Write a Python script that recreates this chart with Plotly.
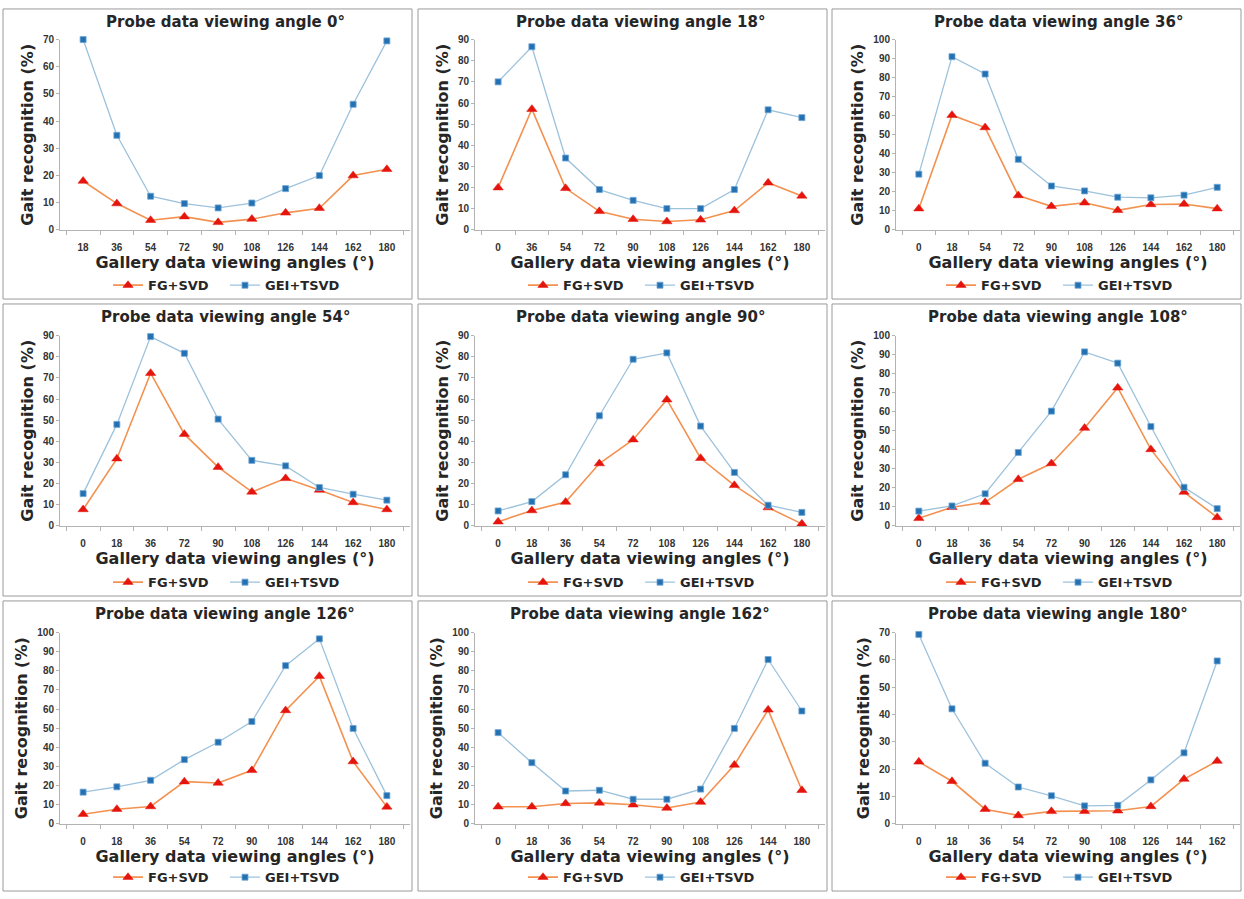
import plotly.graph_objects as go

W, H = 1244, 899

probe_angles = [0, 18, 36, 54, 90, 108, 126, 162, 180]

gallery_p0 = [18, 36, 54, 72, 90, 108, 126, 144, 162, 180]
fg_p0 = [18.0, 9.7, 3.6, 4.9, 2.8, 4.0, 6.3, 8.0, 20.0, 22.3]
gei_p0 = [70.0, 34.8, 12.4, 9.7, 8.1, 9.9, 15.2, 20.0, 46.2, 69.5]

gallery_p18 = [0, 36, 54, 72, 90, 108, 126, 144, 162, 180]
fg_p18 = [20.0, 57.1, 19.7, 8.8, 5.1, 4.0, 4.8, 9.2, 22.3, 16.1]
gei_p18 = [70.0, 86.6, 34.0, 19.1, 14.0, 10.1, 10.1, 19.1, 56.8, 53.1]

gallery_p36 = [0, 18, 54, 72, 90, 108, 126, 144, 162, 180]
fg_p36 = [11.2, 60.3, 53.8, 18.1, 12.4, 14.3, 10.3, 13.4, 13.6, 11.2]
gei_p36 = [29.3, 91.0, 81.9, 37.1, 23.1, 20.5, 17.2, 16.9, 18.3, 22.4]

gallery_p54 = [0, 18, 36, 72, 90, 108, 126, 144, 162, 180]
fg_p54 = [7.8, 31.8, 72.2, 43.4, 27.8, 16.1, 22.5, 17.0, 11.1, 7.8]
gei_p54 = [15.3, 48.0, 89.5, 81.6, 50.5, 31.0, 28.4, 18.2, 15.0, 12.2]

gallery_p90 = [0, 18, 36, 54, 72, 108, 126, 144, 162, 180]
fg_p90 = [2.0, 7.3, 11.3, 29.5, 40.8, 59.7, 32.0, 19.2, 8.7, 1.0]
gei_p90 = [7.1, 11.5, 24.2, 52.1, 78.8, 81.8, 47.2, 25.3, 9.8, 6.4]

gallery_p108 = [0, 18, 36, 54, 72, 90, 126, 144, 162, 180]
fg_p108 = [4.0, 9.8, 12.4, 24.5, 32.8, 51.4, 72.6, 40.2, 17.8, 4.5]
gei_p108 = [7.8, 10.5, 16.9, 38.6, 60.3, 91.4, 85.5, 52.2, 20.3, 9.1]

gallery_p126 = [0, 18, 36, 54, 72, 90, 108, 144, 162, 180]
fg_p126 = [5.1, 7.7, 9.1, 22.1, 21.4, 28.0, 59.3, 77.2, 32.6, 8.9]
gei_p126 = [16.6, 19.4, 22.8, 33.6, 42.7, 53.5, 82.7, 96.7, 49.9, 14.8]

gallery_p162 = [0, 18, 36, 54, 72, 90, 108, 126, 144, 180]
fg_p162 = [9.0, 9.0, 10.7, 11.0, 10.0, 8.3, 11.4, 30.8, 59.6, 17.6]
gei_p162 = [47.7, 32.0, 17.2, 17.6, 12.9, 12.9, 18.2, 49.9, 85.9, 59.0]

gallery_p180 = [0, 18, 36, 54, 72, 90, 108, 126, 144, 162]
fg_p180 = [22.7, 15.6, 5.4, 3.1, 4.6, 4.6, 4.8, 6.4, 16.4, 23.0]
gei_p180 = [69.3, 42.1, 22.2, 13.5, 10.3, 6.6, 6.8, 16.1, 26.0, 59.6]

y_max = [70, 90, 100, 90, 90, 100, 100, 100, 70]

panels = [
    (gallery_p0, fg_p0, gei_p0),
    (gallery_p18, fg_p18, gei_p18),
    (gallery_p36, fg_p36, gei_p36),
    (gallery_p54, fg_p54, gei_p54),
    (gallery_p90, fg_p90, gei_p90),
    (gallery_p108, fg_p108, gei_p108),
    (gallery_p126, fg_p126, gei_p126),
    (gallery_p162, fg_p162, gei_p162),
    (gallery_p180, fg_p180, gei_p180),
]

# layout in pixels
col_x = [(60, 410), (475, 825), (896, 1240)]
row_y = [(34, 227), (334, 527), (635, 829)]
box_x = [(3, 412), (418, 827), (832, 1241)]
box_y = [(3, 297), (302, 598), (603, 897)]

FONT = "Liberation Sans, Arial, sans-serif"
BIG = "DejaVu Sans, Verdana, sans-serif"
TXT = "#262626"
FG_LINE = "#f39150"
FG_MARK = "#e5140d"
GEI_LINE = "#9dc2dc"
GEI_MARK = "#2471b2"

def px(x):
    return x / W

def py(y):
    return 1 - y / H

fig = go.Figure()
layout = dict(
    width=W, height=H,
    margin=dict(l=0, r=0, t=0, b=0),
    paper_bgcolor="white", plot_bgcolor="white",
    font=dict(family=FONT, color=TXT),
    showlegend=True,
)
annotations = []
shapes = []

for i, (gal, fg, gei) in enumerate(panels):
    r, c = divmod(i, 3)
    k = i + 1
    xa = "x" if k == 1 else f"x{k}"
    ya = "y" if k == 1 else f"y{k}"
    lg = "legend" if k == 1 else f"legend{k}"
    cats = [str(g) for g in gal]

    fig.add_trace(go.Scatter(
        x=cats, y=fg, name="FG+SVD", mode="lines+markers",
        line=dict(color=FG_LINE, width=1.6),
        marker=dict(symbol="triangle-up", size=9, color=FG_MARK,
                    line=dict(color=FG_MARK, width=0.5)),
        xaxis=xa, yaxis=ya, legend=lg, cliponaxis=False,
    ))
    fig.add_trace(go.Scatter(
        x=cats, y=gei, name="GEI+TSVD", mode="lines+markers",
        line=dict(color=GEI_LINE, width=1.3),
        marker=dict(symbol="square", size=6, color=GEI_MARK,
                    line=dict(color="#6fa6d6", width=0.8)),
        xaxis=xa, yaxis=ya, legend=lg, cliponaxis=False,
    ))

    x0, x1 = col_x[c]
    yt, yb = row_y[r]
    xkey = "xaxis" if k == 1 else f"xaxis{k}"
    ykey = "yaxis" if k == 1 else f"yaxis{k}"
    layout[xkey] = dict(
        domain=[px(x0), px(x1)], anchor=ya, type="category",
        showline=True, linecolor="#b3b3b3", linewidth=1,
        ticks="outside", tickson="boundaries", ticklen=4, tickcolor="#b3b3b3",
        tickfont=dict(size=10, color="#333333", weight="bold"),
        ticklabelstandoff=8,
        showgrid=False, zeroline=False, fixedrange=True,
        title=dict(text="Gallery data viewing angles (°)",
                   font=dict(family=BIG, size=16, color=TXT, weight="bold"), standoff=1),
    )
    layout[ykey] = dict(
        domain=[py(yb), py(yt)], anchor=xa, range=[0, y_max[i]],
        dtick=10, showline=True, linecolor="#b3b3b3", linewidth=1,
        ticks="outside", ticklen=3, tickcolor="#b3b3b3",
        tickfont=dict(size=10, color="#333333", weight="bold"),
        showgrid=False, zeroline=False, fixedrange=True,
        title=dict(text="Gait recognition (%)",
                   font=dict(family=BIG, size=16, color=TXT, weight="bold"), standoff=5),
    )
    bx0, bx1 = box_x[c]
    by0, by1 = box_y[r]
    cx = (x0 + x1) / 2 - 10
    layout[lg] = dict(
        orientation="h", x=px(cx), xanchor="center",
        y=py(by1 - 14), yanchor="middle",
        font=dict(family=BIG, size=13, color=TXT, weight="bold"),
        bgcolor="rgba(0,0,0,0)", itemwidth=30, tracegroupgap=0,
        entrywidth=72, entrywidthmode="pixels",
    )
    annotations.append(dict(
        text=f"Probe data viewing angle {probe_angles[i]}°",
        x=px(cx), y=py(by0 + 13), xref="paper", yref="paper",
        xanchor="center", yanchor="middle", showarrow=False,
        font=dict(family=BIG, size=15, color=TXT, weight="bold"),
    ))
    shapes.append(dict(
        type="rect", xref="paper", yref="paper",
        x0=px(bx0), x1=px(bx1), y0=py(by1), y1=py(by0),
        line=dict(color="#9a9a9a", width=1), fillcolor="rgba(0,0,0,0)",
    ))

layout["annotations"] = annotations
layout["shapes"] = shapes
fig.update_layout(**layout)
fig.write_html(
    "out.html",
    config={"displayModeBar": False},
    post_script="document.body.style.margin='0';document.body.style.overflow='hidden';",
)
